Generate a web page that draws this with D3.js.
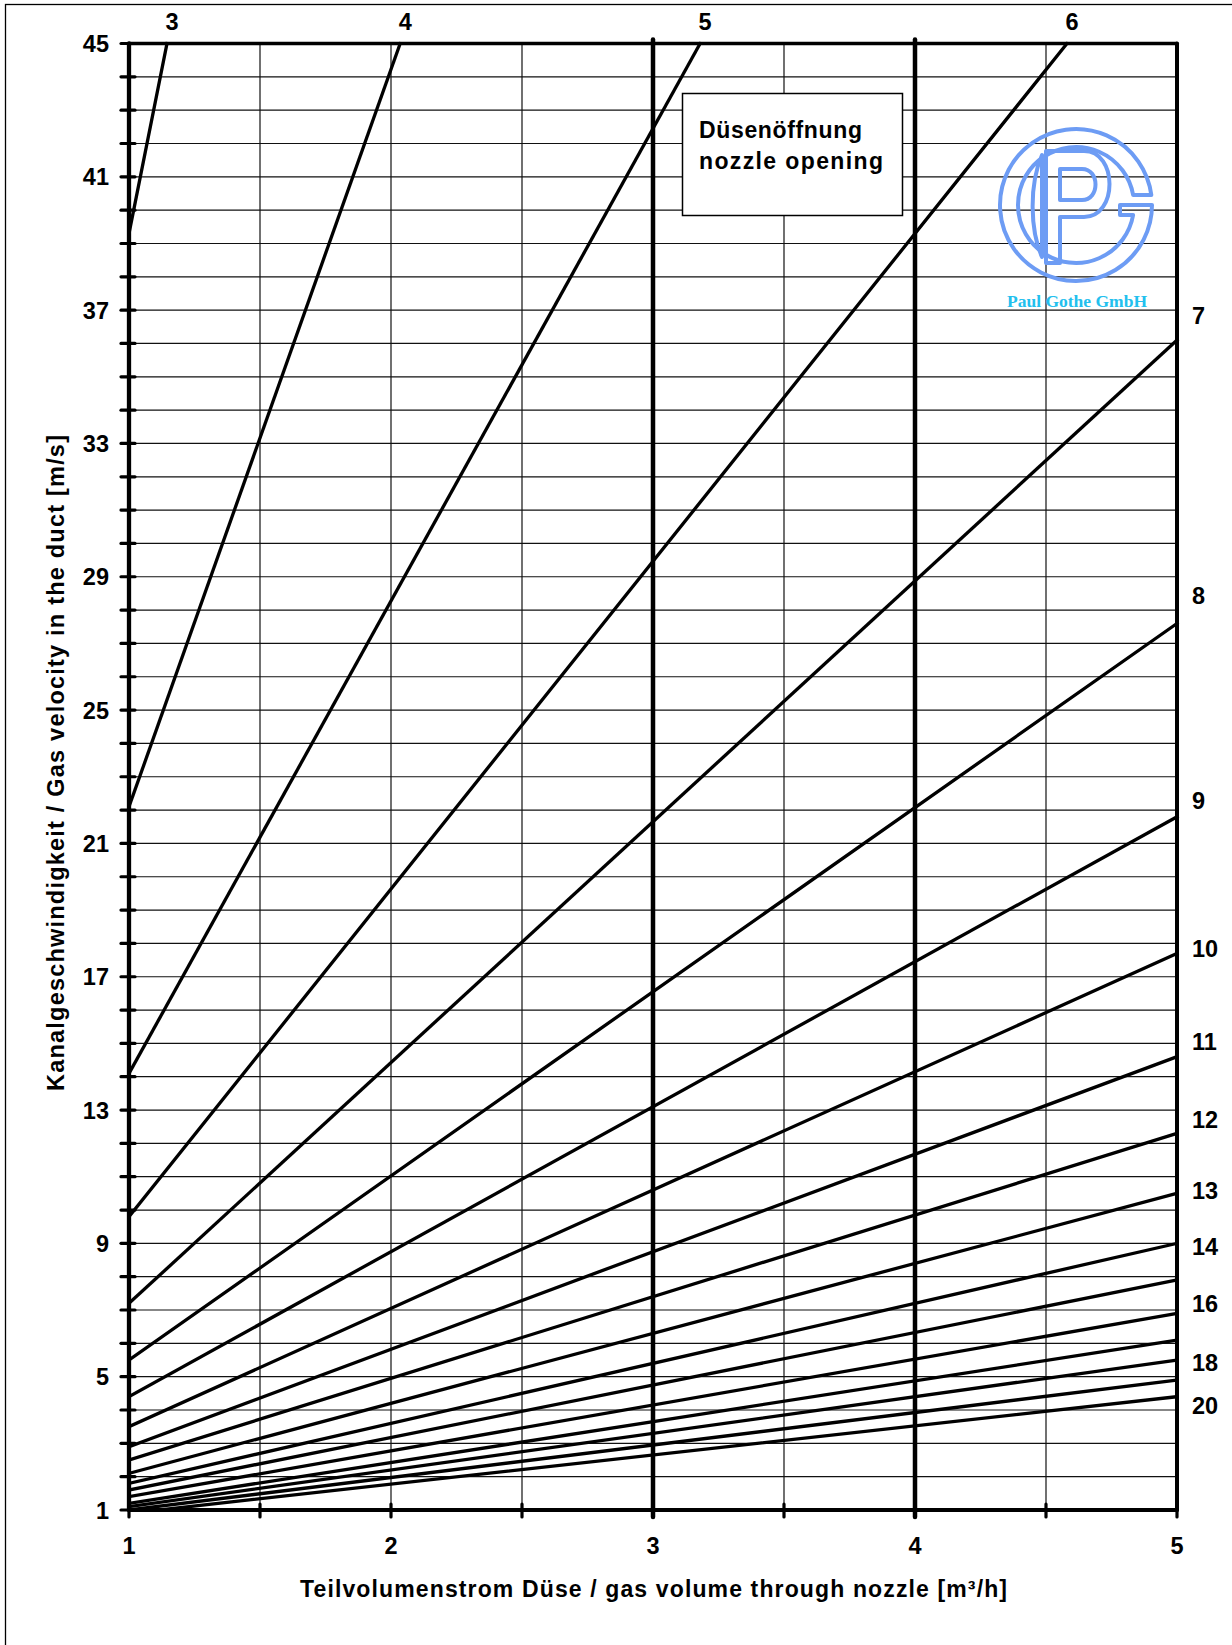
<!DOCTYPE html>
<html>
<head>
<meta charset="utf-8">
<script src="https://cdnjs.cloudflare.com/ajax/libs/d3/7.8.5/d3.min.js"></script>
<style>
	body { margin: 0; background: #fff; }
	svg { display: block; font-family: 'Liberation Sans', Arial, sans-serif; font-weight: bold; }
</style>
</head>
<body>
<svg id="chart" width="1232" height="1645"></svg>
<script>
/*
 *	DATA
 */
const nozzleOpenings = [3, 4, 5, 6, 7, 8, 9, 10, 11, 12, 13, 14, 15, 16, 17, 18, 19, 20]
// velocity where each line leaves the left axis (Q = 1 m³/h)
const velocityAtStart = [39.3, 22.1, 14.1, 9.8, 7.2, 5.5, 4.4, 3.5, 2.9, 2.5, 2.1, 1.8, 1.6, 1.4, 1.2, 1.1, 1.0, 0.9]
// where each line ends: top edge for the small openings, right edge for the others
const flowAtEnd = [1.145, 2.035, 3.18, 4.58, 5, 5, 5, 5, 5, 5, 5, 5, 5, 5, 5, 5, 5, 5]
const velocityAtEnd = [45, 45, 45, 45, 36.1, 27.6, 21.8, 17.7, 14.6, 12.3, 10.5, 9.0, 7.9, 6.9, 6.1, 5.5, 4.9, 4.4]

const topLabelled = [3, 4, 5, 6]
const rightLabelled = [7, 8, 9, 10, 11, 12, 13, 14, 16, 18, 20]

const flowTicks = [1, 1.5, 2, 2.5, 3, 3.5, 4, 4.5, 5]
const flowTickLabels = [1, 2, 3, 4, 5]
const heavyFlowLines = [3, 4]
const velocityTicks = d3.range(1, 46)
const velocityTickLabels = [1, 5, 9, 13, 17, 21, 25, 29, 33, 37, 41, 45]

const xTitle = 'Teilvolumenstrom Düse / gas volume through nozzle [m³/h]'
const yTitle = 'Kanalgeschwindigkeit / Gas velocity in the duct [m/s]'
const boxLines = ['Düsenöffnung', 'nozzle opening']
const logoText = 'Paul Gothe GmbH'

/*
 *	LAYOUT
 */
const plotLeft = 129, plotRight = 1177, plotTop = 43.5, plotBottom = 1510
// vertical nudge (px) of the right hand labels against the line end
const labelNudge = { 7: -25, 8: -28, 9: -16, 10: -5, 11: -15, 12: -14, 13: -3, 14: 3, 16: -10, 18: 2, 20: 9 }
const logoBlue = '#6d9cf4'
const logoCyan = '#22c0ee'

var svg = d3.select('#chart')

var x = d3.scaleLinear().domain([flowTicks[0], flowTicks[flowTicks.length - 1]]).range([plotLeft, plotRight])
var y = d3.scaleLinear().domain([1, 45]).range([plotBottom, plotTop])

svg.append('rect').attr('width', 1232).attr('height', 1645).attr('fill', '#fff')

// outer frame (cut off at right and bottom)
svg.append('rect')
	.attr('x', 5.5).attr('y', 4.5)
	.attr('width', 1240).attr('height', 1660)
	.attr('fill', 'none').attr('stroke', '#000').attr('stroke-width', 1.3)

/* ===== GRID ===== */
var grid = svg.append('g')

grid.selectAll('line.h')
	.data(velocityTicks.slice(1, -1))
	.join('line')
	.attr('x1', plotLeft).attr('x2', plotRight)
	.attr('y1', d => y(d)).attr('y2', d => y(d))
	.attr('stroke', '#111').attr('stroke-width', 1.2)

grid.selectAll('line.v')
	.data(flowTicks.slice(1, -1).filter(d => heavyFlowLines.indexOf(d) < 0))
	.join('line')
	.attr('x1', d => x(d)).attr('x2', d => x(d))
	.attr('y1', plotTop).attr('y2', plotBottom)
	.attr('stroke', '#111').attr('stroke-width', 1.2)

/* ===== NOZZLE LINES ===== */
svg.append('clipPath').attr('id', 'plot-clip')
	.append('rect')
	.attr('x', plotLeft).attr('y', plotTop - 2)
	.attr('width', plotRight - plotLeft + 7).attr('height', plotBottom - plotTop + 2)

var line = d3.line().x(d => x(d[0])).y(d => y(d[1]))

svg.append('g')
	.attr('clip-path', 'url(#plot-clip)')
	.selectAll('path')
	.data(nozzleOpenings.map((n, i) => [[x.domain()[0], velocityAtStart[i]], [flowAtEnd[i], velocityAtEnd[i]]]))
	.join('path')
	.attr('d', line)
	.attr('fill', 'none')
	.attr('stroke', '#000')
	.attr('stroke-width', 3.3)
	.attr('stroke-linecap', 'square')

/* ===== AXES ===== */
var axes = svg.append('g').attr('stroke', '#000').attr('stroke-linecap', 'round')

// heavy verticals at 3 and 4
axes.selectAll('line.heavy')
	.data(heavyFlowLines)
	.join('line')
	.attr('x1', d => x(d)).attr('x2', d => x(d))
	.attr('y1', plotTop - 4).attr('y2', plotBottom + 7)
	.attr('stroke-width', 4.5)

axes.append('line')
	.attr('x1', plotLeft).attr('x2', plotRight)
	.attr('y1', plotTop).attr('y2', plotTop)
	.attr('stroke-width', 3.5)
axes.append('line')
	.attr('x1', plotRight).attr('x2', plotRight)
	.attr('y1', plotTop).attr('y2', plotBottom)
	.attr('stroke-width', 4)
axes.append('line')
	.attr('x1', plotLeft).attr('x2', plotLeft)
	.attr('y1', plotTop).attr('y2', plotBottom)
	.attr('stroke-width', 4.3)
axes.append('line')
	.attr('x1', plotLeft).attr('x2', plotRight)
	.attr('y1', plotBottom).attr('y2', plotBottom)
	.attr('stroke-width', 4)

axes.selectAll('line.ytick')
	.data(velocityTicks)
	.join('line')
	.attr('x1', plotLeft - 8).attr('x2', plotLeft + 6)
	.attr('y1', d => y(d)).attr('y2', d => y(d))
	.attr('stroke-width', 3.2)

axes.selectAll('line.xtick')
	.data(flowTicks)
	.join('line')
	.attr('x1', d => x(d)).attr('x2', d => x(d))
	.attr('y1', plotBottom - 6).attr('y2', plotBottom + 7)
	.attr('stroke-width', 3.2)

/* ===== TICK LABELS ===== */
svg.append('g')
	.selectAll('text')
	.data(velocityTickLabels)
	.join('text')
	.attr('x', plotLeft - 20)
	.attr('y', d => y(d) + 8.5)
	.attr('text-anchor', 'end')
	.attr('font-size', 23.5)
	.text(d => d)

svg.append('g')
	.selectAll('text')
	.data(flowTickLabels)
	.join('text')
	.attr('x', d => x(d))
	.attr('y', plotBottom + 44)
	.attr('text-anchor', 'middle')
	.attr('font-size', 23.5)
	.text(d => d)

/* ===== LINE LABELS ===== */
svg.append('g')
	.selectAll('text')
	.data(topLabelled)
	.join('text')
	.attr('x', d => x(flowAtEnd[nozzleOpenings.indexOf(d)]) + 5)
	.attr('y', 30)
	.attr('text-anchor', 'middle')
	.attr('font-size', 23.5)
	.text(d => d)

svg.append('g')
	.selectAll('text')
	.data(rightLabelled)
	.join('text')
	.attr('x', plotRight + 15)
	.attr('y', d => y(velocityAtEnd[nozzleOpenings.indexOf(d)]) + labelNudge[d] + 8.5)
	.attr('font-size', 23.5)
	.text(d => d)

/* ===== TITLES ===== */
svg.append('text')
	.attr('x', 300).attr('y', 1597)
	.attr('font-size', 23)
	.attr('textLength', 707)
	.attr('lengthAdjust', 'spacing')
	.text(xTitle)

svg.append('text')
	.attr('transform', 'translate(64, 1091) rotate(-90)')
	.attr('font-size', 23.5)
	.attr('textLength', 656)
	.attr('lengthAdjust', 'spacing')
	.text(yTitle)

/* ===== NOTE BOX ===== */
svg.append('rect')
	.attr('x', 682.5).attr('y', 93.5)
	.attr('width', 220).attr('height', 122)
	.attr('fill', '#fff').attr('stroke', '#000').attr('stroke-width', 1.5)

svg.append('g')
	.selectAll('text')
	.data(boxLines)
	.join('text')
	.attr('x', 699)
	.attr('y', (d, i) => 138 + i * 31)
	.attr('font-size', 23)
	.attr('textLength', (d, i) => i ? 184 : 163)
	.attr('lengthAdjust', 'spacing')
	.text(d => d)

/* ===== LOGO ===== */
var logo = svg.append('g')
	.attr('transform', 'translate(1076, 205)')
	.attr('fill', 'none')
	.attr('stroke', logoBlue)
	.attr('stroke-width', 4)
	.attr('stroke-linejoin', 'round')

logo.append('path')
	.attr('d', 'M76,0 L44,0 L44,10 L57.13,10 A58,58 0 1 1 57.13,-10 L75.34,-10 A76,76 0 1 0 76,0 Z')
logo.append('path')
	.attr('d', 'M-30,-54 L8,-54 C42,-54 42,12 8,12 L-16,12 L-16,58 L-30,58 Z')
logo.append('path')
	.attr('d', 'M-16,-36 L6,-36 C24,-36 24,-5 6,-5 L-16,-5 Z')
logo.append('path')
	.attr('d', 'M-34,-50 C-47,-20 -46,25 -34,52 Z')

svg.append('text')
	.attr('x', 1007).attr('y', 307)
	.attr('font-family', "'Liberation Serif', 'Times New Roman', serif")
	.attr('font-size', 17)
	.attr('fill', logoCyan)
	.attr('textLength', 140)
	.attr('lengthAdjust', 'spacingAndGlyphs')
	.text(logoText)
</script>
</body>
</html>
